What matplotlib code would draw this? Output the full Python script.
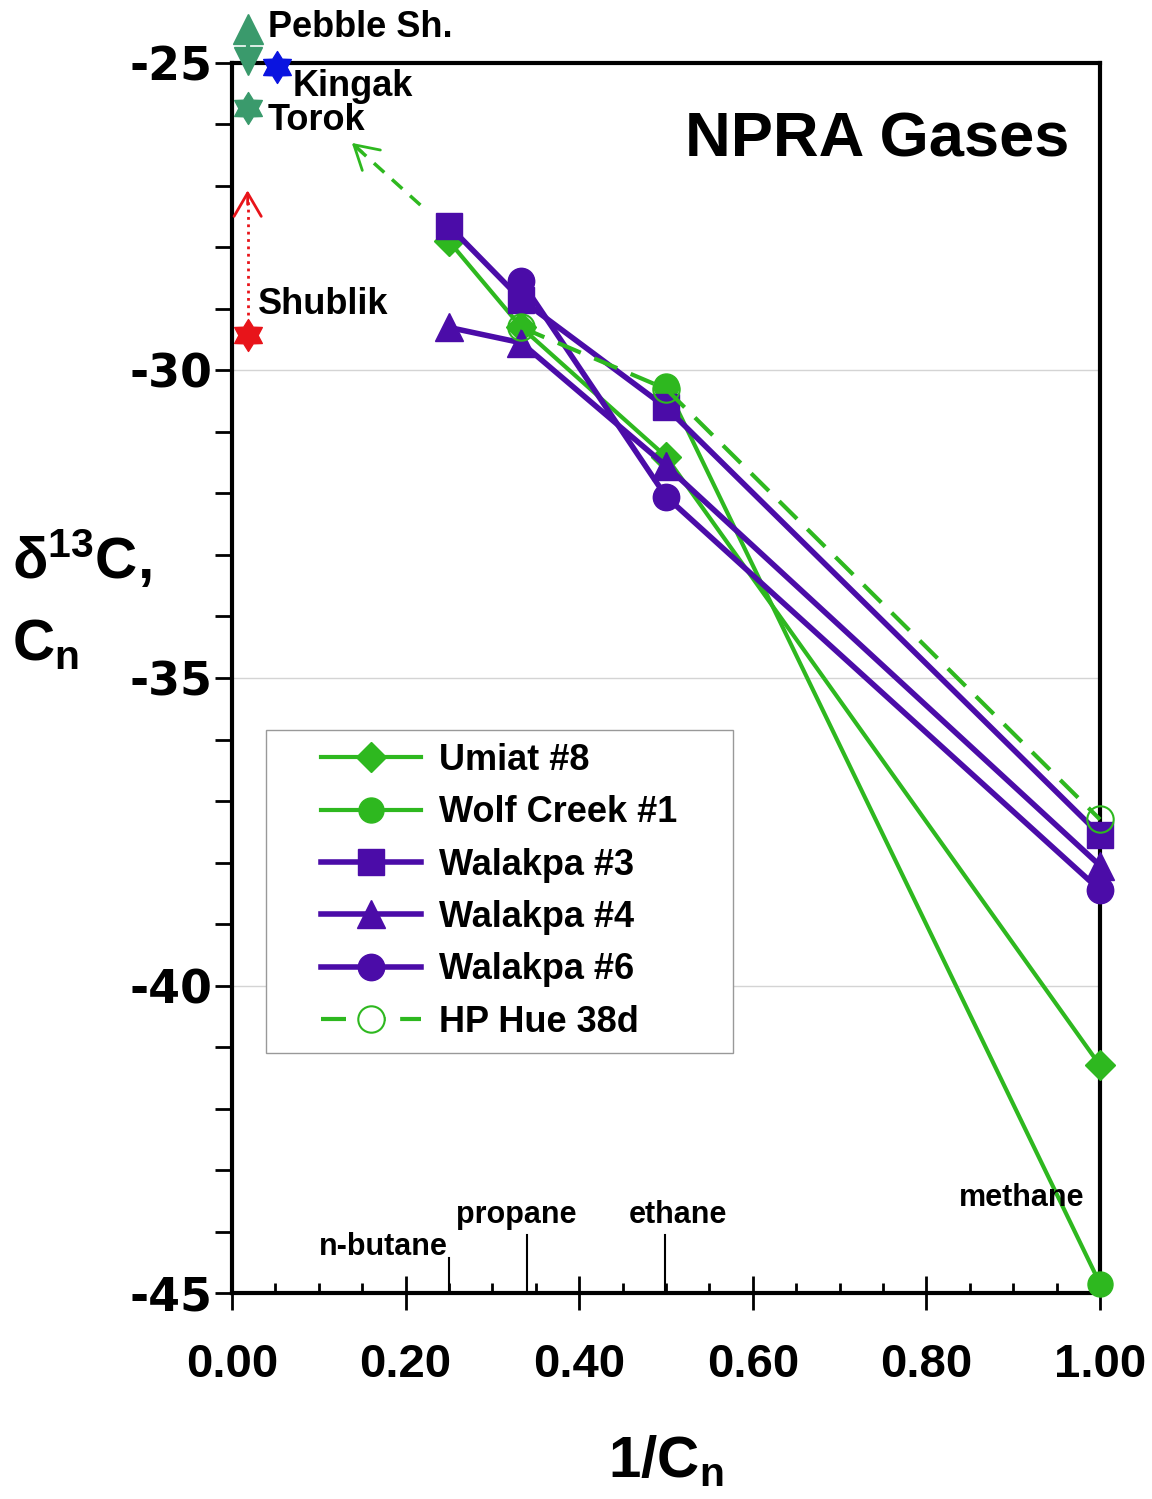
import matplotlib
matplotlib.use('Agg')
import matplotlib.pyplot as plt
from matplotlib.path import Path
from matplotlib.patches import Rectangle
from matplotlib.ticker import MultipleLocator, FormatStrFormatter

plt.rcParams['font.family'] = ['Liberation Sans', 'DejaVu Sans']
plt.rcParams['font.weight'] = 'bold'
plt.rcParams['axes.unicode_minus'] = False
plt.rcParams['mathtext.fontset'] = 'custom'
plt.rcParams['mathtext.rm'] = 'Liberation Sans:bold'
plt.rcParams['mathtext.bf'] = 'Liberation Sans:bold'
plt.rcParams['mathtext.it'] = 'Liberation Sans:bold'

GREEN = '#2eb81f'
PURPLE = '#4b0ca8'
TEAL = '#3a9a6c'
RED = '#e8141a'

# 1/Cn : n-butane, propane, ethane, methane
inv_cn = [0.25, 1 / 3, 0.5, 1.0]

umiat8 = [-27.9, -29.3, -31.4, -41.3]
wolf_creek1 = [-30.25, -44.85]          # ethane, methane
walakpa3 = [-27.65, -28.85, -30.6, -37.55]
walakpa4 = [-29.3, -29.55, -31.55, -38.05]
walakpa6 = [-28.55, -32.05, -38.45]     # propane, ethane, methane
hp_hue38d = [-29.3, -30.3, -37.3]       # propane, ethane, methane

# source rocks (plotted near 1/Cn = 0)
src_x = 0.018
pebble_hi, pebble_lo = -24.45, -24.97
torok = -25.73
kingak_x, kingak = 0.052, -25.06
shublik = -29.42

# compound names along the bottom
comp_names = ['n-butane', 'propane', 'ethane', 'methane']
comp_x = [0.174, 0.328, 0.514, 0.91]
comp_y = [-44.25, -43.73, -43.73, -43.46]
comp_line_x = [0.25, 0.34, 0.499]
comp_line_top = [-44.43, -44.06, -44.06]

hexagram = Path.unit_regular_star(6, innerCircle=0.6)

fig = plt.figure(figsize=(11.52, 14.99), dpi=100)
ax = fig.add_axes([0.2014, 0.1374, 0.9549 - 0.2014, 0.958 - 0.1374])

ax.plot(inv_cn, umiat8, color=GREEN, lw=3, marker='D', ms=15, label='Umiat #8',
        clip_on=False, zorder=3)
ax.plot(inv_cn[2:], wolf_creek1, color=GREEN, lw=3, marker='o', ms=18, label='Wolf Creek #1',
        clip_on=False, zorder=3)
ax.plot(inv_cn, walakpa3, color=PURPLE, lw=4, marker='s', ms=19, label='Walakpa #3',
        clip_on=False, zorder=3)
ax.plot(inv_cn, walakpa4, color=PURPLE, lw=4, marker='^', ms=20, label='Walakpa #4',
        clip_on=False, zorder=3)
ax.plot(inv_cn[1:], walakpa6, color=PURPLE, lw=4, marker='o', ms=19, label='Walakpa #6',
        clip_on=False, zorder=3)
ax.plot(inv_cn[1:], hp_hue38d, color=GREEN, lw=3, ls=(0, (6, 3.5)), marker='o', ms=19,
        mfc='none', mec=GREEN, mew=1.5, label='HP Hue 38d', clip_on=False, zorder=3)

# source rock values
ax.plot([src_x, src_x], [pebble_hi, pebble_lo], color=TEAL, lw=3, clip_on=False, zorder=3)
ax.plot(src_x, pebble_hi, marker='^', ms=21, color=TEAL, clip_on=False, zorder=3)
ax.plot(src_x, pebble_lo, marker='v', ms=20, color=TEAL, clip_on=False, zorder=3)
ax.plot(src_x, torok, marker=hexagram, ms=23, color=TEAL, clip_on=False, zorder=3)
ax.plot(kingak_x, kingak, marker=hexagram, ms=23, color='#0a14e0', clip_on=False, zorder=3)
ax.plot(src_x, shublik, marker=hexagram, ms=23, color=RED, clip_on=False, zorder=3)

ax.text(0.041, -24.43, 'Pebble Sh.', fontsize=26, va='center')
ax.text(0.07, -25.39, 'Kingak', fontsize=26, va='center')
ax.text(0.041, -25.94, 'Torok', fontsize=26, va='center')
ax.text(0.03, -28.93, 'Shublik', fontsize=26, va='center')

# red dotted arrow (Shublik)
ax.plot([src_x, src_x], [-29.1, -27.1], color=RED, lw=2, ls=':')
ax.annotate('', xy=(src_x, -27.07), xytext=(src_x, -27.3),
            arrowprops=dict(arrowstyle='->,head_length=0.6,head_width=0.35',
                            color=RED, lw=2, mutation_scale=28, shrinkA=0, shrinkB=0))
# green dashed arrow (trend back toward source)
ax.plot([0.217, 0.14], [-27.31, -26.33], color=GREEN, lw=2.5, ls=(0, (4, 3)))
ax.annotate('', xy=(0.138, -26.30), xytext=(0.15, -26.45),
            arrowprops=dict(arrowstyle='->,head_length=0.6,head_width=0.35',
                            color=GREEN, lw=2, mutation_scale=28, shrinkA=0, shrinkB=0))

ax.text(0.965, -26.25, 'NPRA Gases', fontsize=45.5, ha='right', va='center')

for name, x, y in zip(comp_names, comp_x, comp_y):
    ax.text(x, y, name, fontsize=22, ha='center', va='center')
for x, top in zip(comp_line_x, comp_line_top):
    ax.plot([x, x], [-45, top], color='black', lw=1.5)

ax.set_xlim(0, 1.0)
ax.set_ylim(-45, -25)
ax.xaxis.set_major_locator(MultipleLocator(0.2))
ax.xaxis.set_minor_locator(MultipleLocator(0.05))
ax.xaxis.set_major_formatter(FormatStrFormatter('%.2f'))
ax.yaxis.set_major_locator(MultipleLocator(5))
ax.yaxis.set_minor_locator(MultipleLocator(1))
ax.tick_params(axis='x', which='major', direction='inout', length=24, width=2, pad=24)
ax.tick_params(axis='x', which='minor', direction='in', length=7, width=2)
ax.tick_params(axis='y', which='both', direction='out', length=12, width=2, pad=2)
for lab in ax.get_xticklabels():
    lab.set_fontsize(34)
    lab.set_fontweight('bold')
for lab in ax.get_yticklabels():
    lab.set_family('DejaVu Sans')
    lab.set_fontsize(33)
    lab.set_fontweight('bold')
for s in ax.spines.values():
    s.set_linewidth(3)
ax.yaxis.grid(True, which='major', color='#d4d4d4', lw=1)
ax.set_axisbelow(True)

ax.set_xlabel('1/C$_{n}$', fontsize=42, fontweight='bold', labelpad=34)
fig.text(12 / 1152, 1 - 560 / 1499, 'δ$^{13}$C,', fontsize=42, va='center', ha='left')
fig.text(12 / 1152, 1 - 645 / 1499, 'C$_{n}$', fontsize=42, va='center', ha='left')

# legend box drawn separately so the padding matches the original
ax.add_patch(Rectangle((0.039, 0.195), 0.538, 0.263, transform=ax.transAxes,
                       fill=True, facecolor='white', edgecolor='#999999', lw=1, zorder=4))
leg = ax.legend(loc='center left', bbox_to_anchor=(0.103, 0.3265), fontsize=26,
                handlelength=2.75, frameon=False, borderaxespad=0, borderpad=0,
                labelspacing=0.48, handletextpad=0.5)
leg.set_zorder(5)
leg.legend_handles[-1].set_markerfacecolor('white')

fig.savefig('out.png', dpi=100)
